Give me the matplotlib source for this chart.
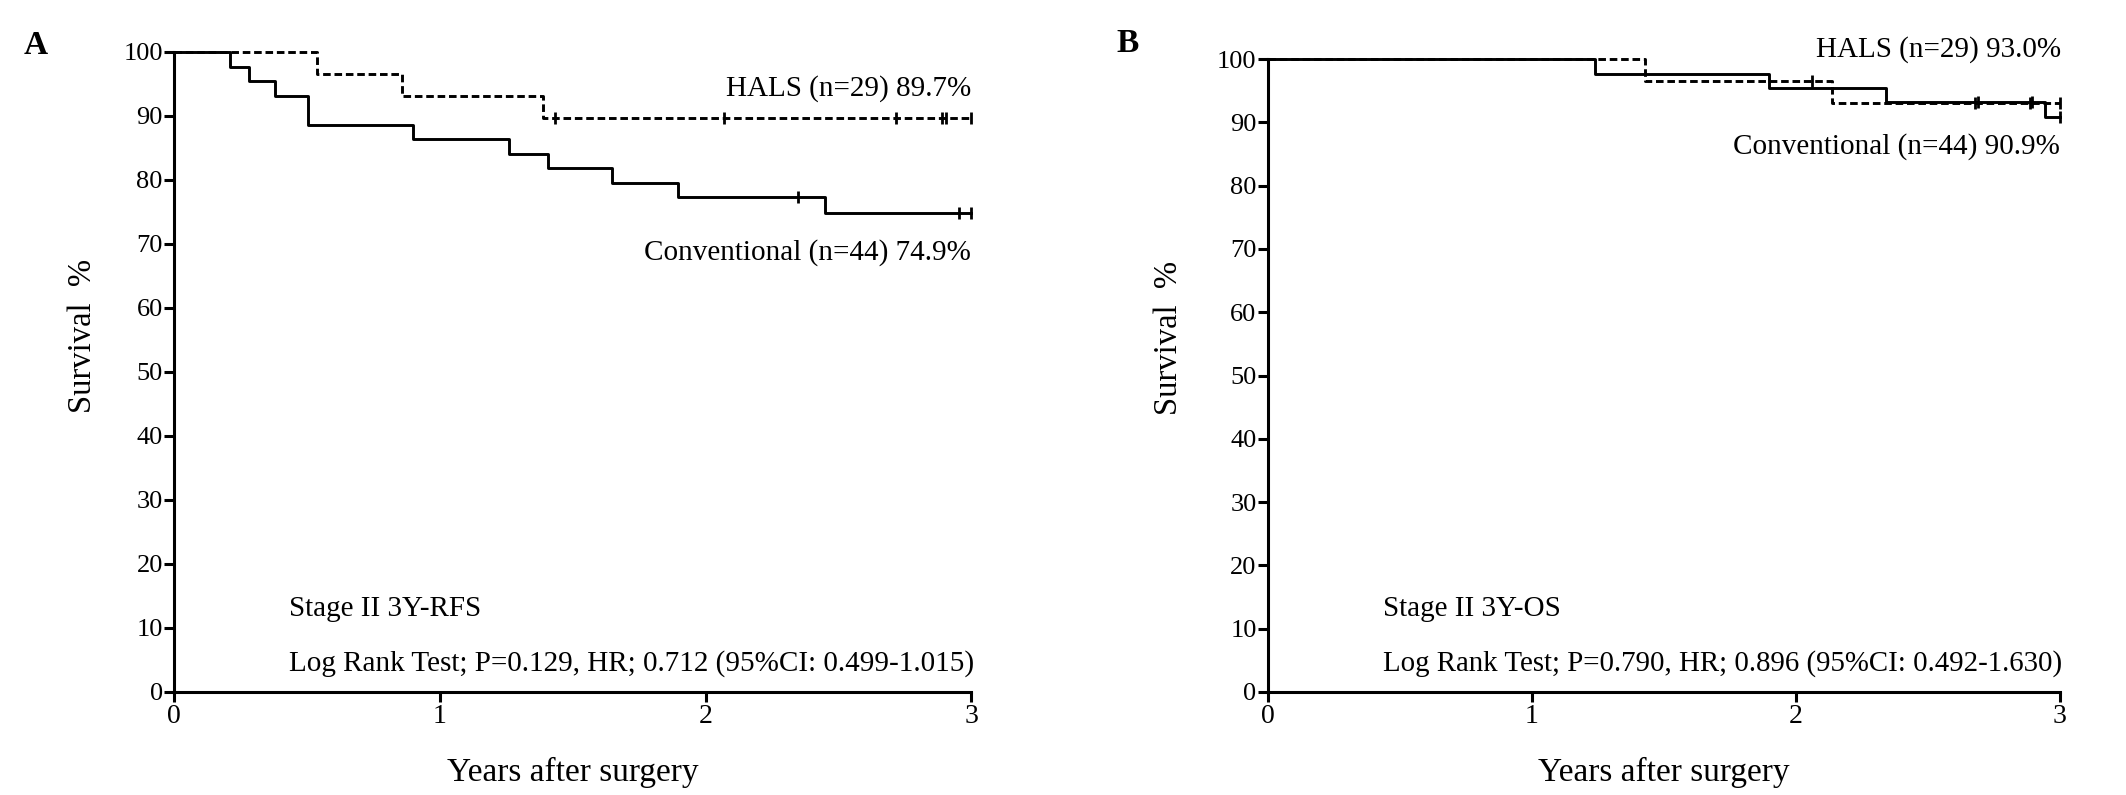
import matplotlib
matplotlib.use("Agg")
import matplotlib.pyplot as plt

plt.rcParams['font.family'] = ['Liberation Serif', 'DejaVu Serif']

# Panel A - Stage II 3Y-RFS (event times in years, survival % after each step)
a_hals_t = [0, 0.537, 0.859, 1.388]
a_hals_s = [100, 96.55, 93.10, 89.66]
a_hals_cens = [1.435, 2.07, 2.716, 2.89, 2.905, 3.0]

a_conv_t = [0, 0.21, 0.284, 0.38, 0.504, 0.898, 1.261, 1.406, 1.647, 1.896, 2.451]
a_conv_s = [100, 97.73, 95.45, 93.18, 88.64, 86.36, 84.09, 81.82, 79.55, 77.27, 74.9]
a_conv_cens = [2.349, 2.955, 3.0]

# Panel B - Stage II 3Y-OS
b_hals_t = [0, 1.43, 2.137]
b_hals_s = [100, 96.55, 93.0]
b_hals_cens = [2.06, 2.678, 2.886, 3.0]

b_conv_t = [0, 1.241, 1.897, 2.344, 2.943]
b_conv_s = [100, 97.73, 95.45, 93.18, 90.9]
b_conv_cens = [2.691, 2.897, 3.0]

x_ticks = [0, 1, 2, 3]
y_ticks = list(range(0, 101, 10))


def km_curve(ax, t, s, cens, dashed):
    # extend to end of follow-up
    xs = list(t) + [3.0]
    ys = list(s) + [s[-1]]
    ls = (0, (2.6, 1.3)) if dashed else '-'
    ax.step(xs, ys, where='post', color='black', lw=2.1, linestyle=ls, clip_on=False)
    # censor marks
    cy = []
    for c in cens:
        k = 0
        for i in range(len(t)):
            if t[i] <= c:
                k = i
        cy.append(s[k])
    ax.plot(cens, cy, linestyle='none', marker='|', markersize=8, mew=2,
            color='black', clip_on=False)


def style_axes(ax):
    ax.set_xlim(0, 3)
    ax.set_ylim(0, 100)
    ax.set_xticks(x_ticks)
    ax.set_yticks(y_ticks)
    ax.spines['top'].set_visible(False)
    ax.spines['right'].set_visible(False)
    ax.spines['left'].set_linewidth(2.2)
    ax.spines['bottom'].set_linewidth(2.2)
    ax.tick_params(axis='both', direction='out', length=7, width=2.2, labelsize=19)
    ax.tick_params(axis='x', labelsize=20, pad=2)
    ax.tick_params(axis='y', pad=1)
    ax.set_ylabel('Survival  %', fontsize=23.5)
    ax.set_xlabel('Years after surgery', fontsize=24)
    ax.xaxis.set_label_coords(0.5, -0.102)


fig = plt.figure(figsize=(21.26, 7.95), dpi=100)
axA = fig.add_axes([0.0818, 0.1296, 0.3751, 0.805])
axB = fig.add_axes([0.5963, 0.1296, 0.3725, 0.796])

# Panel A
km_curve(axA, a_hals_t, a_hals_s, a_hals_cens, True)
km_curve(axA, a_conv_t, a_conv_s, a_conv_cens, False)
style_axes(axA)
axA.yaxis.set_label_coords(-0.095, 0.556)
axA.text(3.0, 94.3, 'HALS (n=29) 89.7%', ha='right', va='center', fontsize=21)
axA.text(3.0, 68.7, 'Conventional (n=44) 74.9%', ha='right', va='center', fontsize=21)
axA.text(0.433, 13.0, 'Stage II 3Y-RFS', ha='left', va='center', fontsize=21)
axA.text(0.433, 4.5, 'Log Rank Test; P=0.129, HR; 0.712 (95%CI: 0.499-1.015)',
         ha='left', va='center', fontsize=21)
fig.text(0.011, 0.943, 'A', fontsize=24, fontweight='bold', va='center', ha='left')

# Panel B
km_curve(axB, b_hals_t, b_hals_s, b_hals_cens, True)
km_curve(axB, b_conv_t, b_conv_s, b_conv_cens, False)
style_axes(axB)
axB.yaxis.set_label_coords(-0.106, 0.559)
axB.text(3.005, 101.5, 'HALS (n=29) 93.0%', ha='right', va='center', fontsize=21)
axB.text(3.0, 86.2, 'Conventional (n=44) 90.9%', ha='right', va='center', fontsize=21)
axB.text(0.436, 13.1, 'Stage II 3Y-OS', ha='left', va='center', fontsize=21)
axB.text(0.436, 4.5, 'Log Rank Test; P=0.790, HR; 0.896 (95%CI: 0.492-1.630)',
         ha='left', va='center', fontsize=20.8)
fig.text(0.525, 0.945, 'B', fontsize=24, fontweight='bold', va='center', ha='left')

fig.savefig('out.png', dpi=100)
